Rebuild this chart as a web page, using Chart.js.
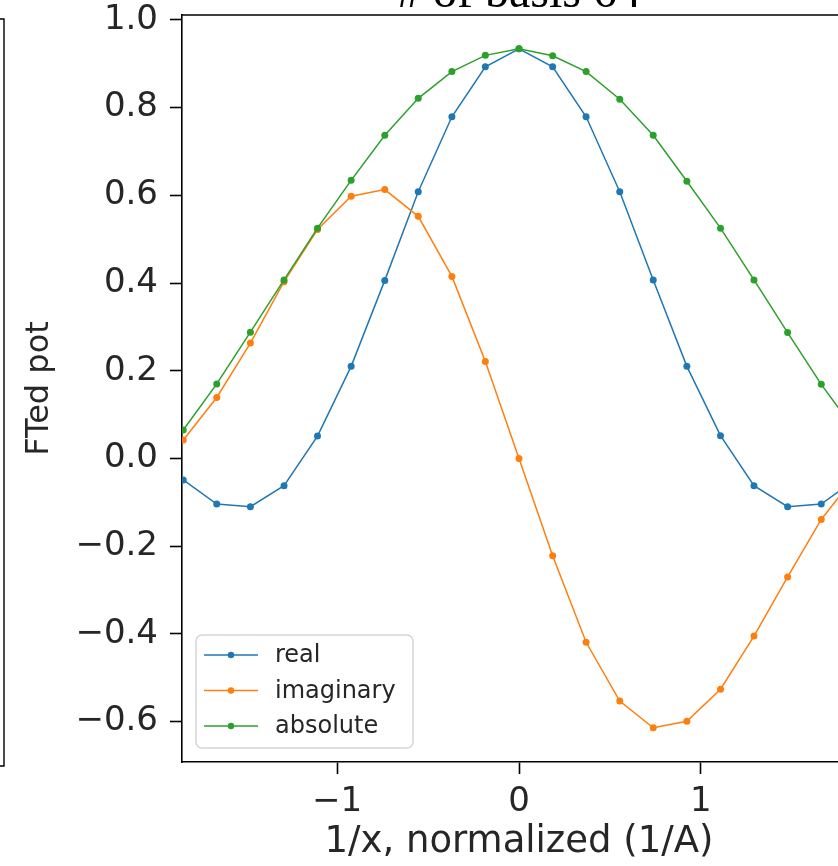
<!DOCTYPE html>
<html>
<head>
<meta charset="utf-8">
<script src="https://cdn.jsdelivr.net/npm/chart.js@4.4.1/dist/chart.umd.min.js"></script>
<style>
  html, body { margin: 0; padding: 0; background: #fff; overflow: hidden; }
  #wrap { width: 880px; height: 866px; }
</style>
</head>
<body>
<div id="wrap"><canvas id="ft" width="880" height="866"></canvas></div>
<script>
// frequencies (1/A, normalized)
const freq = [-1.846, -1.662, -1.477, -1.292, -1.108, -0.923, -0.738, -0.554, -0.369, -0.185, 0,
  0.185, 0.369, 0.554, 0.738, 0.923, 1.108, 1.292, 1.477, 1.662, 1.846];
const realPart = [-0.049, -0.104, -0.110, -0.062, 0.051, 0.210, 0.406, 0.608, 0.779, 0.893, 0.934,
  0.893, 0.779, 0.608, 0.407, 0.210, 0.052, -0.062, -0.110, -0.104, -0.049];
const imagPart = [0.042, 0.139, 0.263, 0.403, 0.522, 0.598, 0.613, 0.552, 0.415, 0.221, 0.0,
  -0.222, -0.419, -0.553, -0.614, -0.599, -0.526, -0.405, -0.270, -0.139, -0.042];
const absPart = [0.065, 0.170, 0.288, 0.407, 0.525, 0.634, 0.737, 0.821, 0.882, 0.919, 0.934,
  0.918, 0.882, 0.819, 0.737, 0.632, 0.525, 0.407, 0.287, 0.169, 0.065];

const seriesNames = ["real", "imaginary", "absolute"];
const seriesColors = ["#1f77b4", "#ff7f0e", "#2ca02c"];
const xTicks = [-1, 0, 1];
const yTicks = [-0.6, -0.4, -0.2, 0.0, 0.2, 0.4, 0.6, 0.8, 1.0];
const titleText = "# of basis 64";
const xLabel = "1/x, normalized (1/A)";
const yLabel = "FTed pot";

const sans = "'DejaVu Sans', sans-serif";

function fmt(v, d) {
  let s = Math.abs(v) < 1e-9 ? (0).toFixed(d) : v.toFixed(d);
  return s.replace("-", "\u2212");
}

function toPoints(ys) {
  return freq.map((x, i) => ({ x: x, y: ys[i] }));
}

const series = [realPart, imagPart, absPart];
const datasets = series.map((ys, i) => ({
  label: seriesNames[i],
  data: toPoints(ys),
  borderColor: seriesColors[i],
  backgroundColor: seriesColors[i],
  borderWidth: 1.5,
  pointRadius: 3.5,
  pointBorderWidth: 0,
  pointBackgroundColor: seriesColors[i],
  tension: 0,
  order: 3 - i
}));

// extra drawing: top spine, title, legend box, neighbour frame edge
const decorations = {
  id: "decorations",
  afterDraw(chart) {
    const ctx = chart.ctx;
    const a = chart.chartArea;
    ctx.save();
    ctx.strokeStyle = "#000";
    ctx.lineWidth = 1.6;
    ctx.beginPath();
    ctx.moveTo(a.left, a.top);
    ctx.lineTo(a.right, a.top);
    ctx.stroke();

    // right edge of the neighbouring subplot
    ctx.lineWidth = 1.4;
    ctx.beginPath();
    ctx.moveTo(0, 19);
    ctx.lineTo(4, 19);
    ctx.lineTo(4, 766);
    ctx.lineTo(0, 766);
    ctx.stroke();

    // title (mostly cut off at the top)
    ctx.fillStyle = "#000";
    ctx.font = "48px 'Liberation Serif', serif";
    ctx.textAlign = "center";
    ctx.textBaseline = "alphabetic";
    ctx.fillText(titleText, (a.left + a.right) / 2, 7);

    // legend
    const bx = 196, by = 635, bw = 217, bh = 113, r = 6;
    ctx.fillStyle = "rgba(255,255,255,0.8)";
    ctx.strokeStyle = "#d6d6d6";
    ctx.lineWidth = 1.5;
    ctx.beginPath();
    ctx.roundRect(bx, by, bw, bh, r);
    ctx.fill();
    ctx.stroke();
    ctx.font = "24px " + sans;
    ctx.textAlign = "left";
    ctx.textBaseline = "middle";
    chart.data.datasets.forEach((ds, i) => {
      const y = 655 + i * 35.5;
      ctx.strokeStyle = ds.borderColor;
      ctx.lineWidth = 1.5;
      ctx.beginPath();
      ctx.moveTo(204, y);
      ctx.lineTo(258, y);
      ctx.stroke();
      ctx.fillStyle = ds.borderColor;
      ctx.beginPath();
      ctx.arc(231, y, 3.2, 0, Math.PI * 2);
      ctx.fill();
      ctx.fillStyle = "#262626";
      ctx.fillText(ds.label, 275, y + 1);
    });
    ctx.restore();
  }
};

new Chart(document.getElementById("ft"), {
  type: "line",
  data: { datasets },
  options: {
    responsive: false,
    animation: false,
    events: [],
    layout: { padding: { top: 15, right: 24, left: 0, bottom: 0 } },
    plugins: {
      legend: { display: false },
      tooltip: { enabled: false },
      title: { display: false }
    },
    scales: {
      x: {
        type: "linear",
        min: -1.853,
        max: 1.853,
        afterBuildTicks: (scale) => { scale.ticks = xTicks.map(v => ({ value: v })); },
        afterFit: (scale) => { scale.height = 104; scale.paddingLeft = 0; scale.paddingRight = 0; },
        grid: { display: true, drawOnChartArea: false, drawTicks: true, tickLength: 12, tickColor: "#000", tickWidth: 1.6 },
        border: { display: true, color: "#000", width: 1.6 },
        ticks: {
          color: "#262626",
          font: { family: sans, size: 34 },
          padding: 8,
          maxRotation: 0,
          callback: (v) => fmt(v, 0)
        },
        title: {
          display: true,
          text: xLabel,
          color: "#262626",
          font: { family: sans, size: 37 },
          padding: { top: 0, bottom: 1 }
        }
      },
      y: {
        type: "linear",
        min: -0.692,
        max: 1.011,
        afterBuildTicks: (scale) => { scale.ticks = yTicks.map(v => ({ value: v })); },
        afterFit: (scale) => { scale.width = 182; scale.paddingTop = 0; scale.paddingBottom = 0; },
        grid: { display: true, drawOnChartArea: false, drawTicks: true, tickLength: 12, tickColor: "#000", tickWidth: 1.6 },
        border: { display: true, color: "#000", width: 1.6 },
        ticks: {
          color: "#262626",
          font: { family: sans, size: 34 },
          padding: 12,
          callback: (v) => fmt(v, 1)
        },
        title: {
          display: true,
          text: yLabel,
          color: "#262626",
          font: { family: sans, size: 32 },
          padding: { top: 20, bottom: 0 }
        }
      }
    }
  },
  plugins: [decorations]
});
</script>
</body>
</html>
